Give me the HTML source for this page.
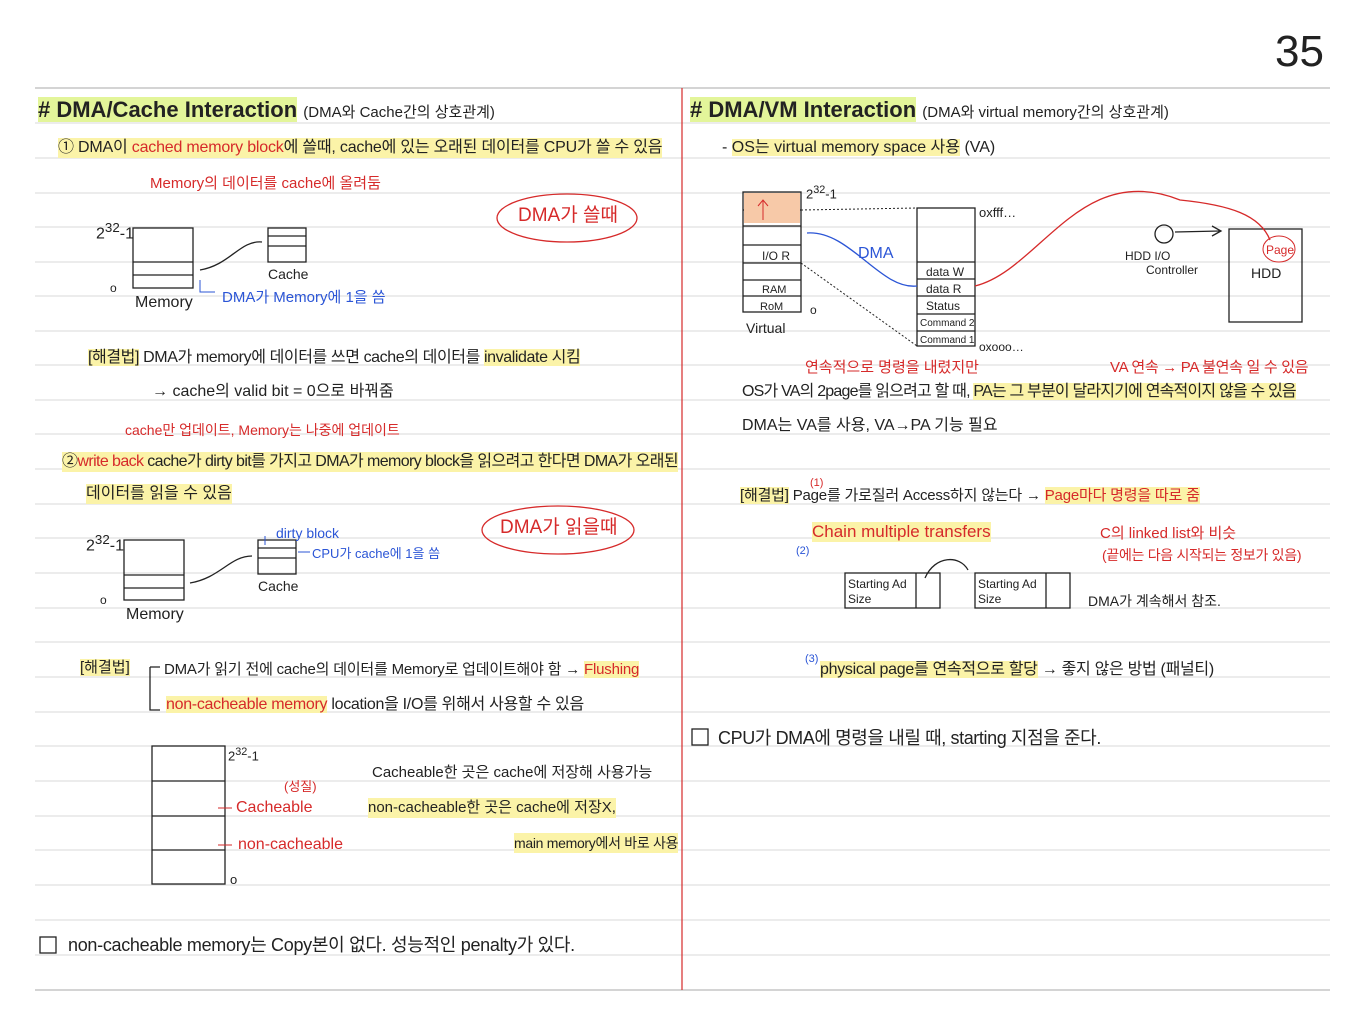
<!DOCTYPE html>
<html><head><meta charset="utf-8"><style>
body{margin:0;width:1365px;height:1024px;background:#fff;position:relative;overflow:hidden;font-family:"Liberation Sans","Noto Sans CJK KR",sans-serif;color:#222}
.t{position:absolute;white-space:nowrap;font-size:16px;line-height:20px}
.h{background:#e3f59a}
.y{background:#fbf3a8}
.r{color:#d62a2a}
.b{color:#2b55d6}
.big{font-size:22px;font-weight:bold}
</style></head><body>
<svg width="1365" height="1024" style="position:absolute;left:0;top:0">
<g stroke="#d8d8d8" stroke-width="1">
<line x1="35" y1="88" x2="1330" y2="88" stroke="#aaa"/>
<line x1="35" y1="123" x2="1330" y2="123"/><line x1="35" y1="158" x2="1330" y2="158"/>
<line x1="35" y1="193" x2="1330" y2="193"/><line x1="35" y1="227" x2="1330" y2="227"/>
<line x1="35" y1="262" x2="1330" y2="262"/><line x1="35" y1="296" x2="1330" y2="296"/>
<line x1="35" y1="331" x2="1330" y2="331"/><line x1="35" y1="365" x2="1330" y2="365"/>
<line x1="35" y1="400" x2="1330" y2="400"/><line x1="35" y1="434" x2="1330" y2="434"/>
<line x1="35" y1="469" x2="1330" y2="469"/><line x1="35" y1="504" x2="1330" y2="504"/>
<line x1="35" y1="538" x2="1330" y2="538"/><line x1="35" y1="573" x2="1330" y2="573"/>
<line x1="35" y1="608" x2="1330" y2="608"/><line x1="35" y1="642" x2="1330" y2="642"/>
<line x1="35" y1="677" x2="1330" y2="677"/><line x1="35" y1="712" x2="1330" y2="712"/>
<line x1="35" y1="746" x2="1330" y2="746"/><line x1="35" y1="781" x2="1330" y2="781"/>
<line x1="35" y1="816" x2="1330" y2="816"/><line x1="35" y1="850" x2="1330" y2="850"/>
<line x1="35" y1="885" x2="1330" y2="885"/><line x1="35" y1="920" x2="1330" y2="920"/>
<line x1="35" y1="955" x2="1330" y2="955"/><line x1="35" y1="990" x2="1330" y2="990" stroke="#aaa"/>
</g>
<line x1="682" y1="88" x2="682" y2="990" stroke="#d62a2a" stroke-width="1.2"/>
<g fill="none" stroke="#222" stroke-width="1.3">
<rect x="133" y="228" width="60" height="60"/><line x1="133" y1="262" x2="193" y2="262"/><line x1="133" y1="275" x2="193" y2="275"/>
<rect x="268" y="228" width="38" height="34"/><line x1="268" y1="236" x2="306" y2="236"/><line x1="268" y1="246" x2="306" y2="246"/>
<path d="M200 270 C230 265 240 240 262 242"/>
<rect x="124" y="540" width="60" height="60"/><line x1="124" y1="575" x2="184" y2="575"/><line x1="124" y1="588" x2="184" y2="588"/>
<rect x="258" y="540" width="38" height="34"/><line x1="258" y1="548" x2="296" y2="548"/><line x1="258" y1="558" x2="296" y2="558"/>
<path d="M190 583 C220 578 230 556 252 556"/>
<path d="M150 667 L150 710 L160 710 M150 667 L160 667"/>
<rect x="152" y="746" width="73" height="138"/><line x1="152" y1="781" x2="225" y2="781"/><line x1="152" y1="816" x2="225" y2="816"/><line x1="152" y1="850" x2="225" y2="850"/>
<rect x="743" y="192" width="58" height="120"/>
<line x1="743" y1="210" x2="801" y2="210"/><line x1="743" y1="226" x2="801" y2="226"/><line x1="743" y1="245" x2="801" y2="245"/><line x1="743" y1="263" x2="801" y2="263"/><line x1="743" y1="280" x2="801" y2="280"/><line x1="743" y1="296" x2="801" y2="296"/>
<rect x="917" y="208" width="58" height="138"/>
<line x1="917" y1="262" x2="975" y2="262"/><line x1="917" y1="279" x2="975" y2="279"/><line x1="917" y1="296" x2="975" y2="296"/><line x1="917" y1="314" x2="975" y2="314"/><line x1="917" y1="331" x2="975" y2="331"/>
<rect x="1229" y="229" width="73" height="93"/>
<circle cx="1164" cy="234" r="9"/>
<path d="M1175 232 L1220 231"/><path d="M1212 226 L1221 231 L1212 236"/>
<rect x="845" y="573" width="95" height="35"/><line x1="916" y1="573" x2="916" y2="608"/>
<rect x="975" y="573" width="95" height="35"/><line x1="1046" y1="573" x2="1046" y2="608"/>
<path d="M925 578 C935 555 960 555 968 570"/>
<rect x="692" y="729" width="16" height="16"/>
<rect x="40" y="937" width="16" height="16"/>
</g>
<g stroke="#222" stroke-width="1" stroke-dasharray="2,2" fill="none">
<line x1="801" y1="210" x2="917" y2="208"/><line x1="801" y1="263" x2="917" y2="346"/>
</g>
<rect x="744" y="193" width="56" height="30" fill="#f7c9a8"/>
<path d="M763 200 L763 220 M758 206 L763 200 L768 206" stroke="#d62a2a" fill="none"/>
<path d="M807 233 C850 230 880 290 917 286" stroke="#2b55d6" fill="none" stroke-width="1.3"/>
<path d="M975 286 C1040 270 1080 160 1180 200 C1230 205 1260 215 1270 240" stroke="#d62a2a" fill="none" stroke-width="1.3"/>
<ellipse cx="1279" cy="249" rx="16" ry="13" stroke="#d62a2a" fill="none"/>
<ellipse cx="567" cy="218" rx="70" ry="24" stroke="#d62a2a" fill="none" stroke-width="1.3"/>
<ellipse cx="558" cy="530" rx="76" ry="24" stroke="#d62a2a" fill="none" stroke-width="1.3"/>
<path d="M200 280 L200 292 L215 292" stroke="#2b55d6" fill="none"/>
<path d="M265 536 L265 545 M298 552 L310 552" stroke="#2b55d6" fill="none"/>
<line x1="218" y1="808" x2="232" y2="808" stroke="#d62a2a"/><line x1="218" y1="845" x2="232" y2="845" stroke="#d62a2a"/>
</svg>

<div class="t" style="left:1275px;top:28px;font-size:44px;line-height:48px">35</div>

<div class="t big" style="left:38px;top:100px"><span class="h">#&nbsp;DMA/Cache Interaction</span> <span style="font-size:15px;font-weight:normal">(DMA와 Cache간의 상호관계)</span></div>
<div class="t y" style="left:58px;top:138px;font-size:16px;letter-spacing:-0.2px">① DMA이 <span class="r">cached memory block</span>에 쓸때, cache에 있는 오래된 데이터를 CPU가 쓸 수 있음</div>
<div class="t r" style="left:150px;top:174px;font-size:15px">Memory의 데이터를 cache에 올려둠</div>
<div class="t" style="left:96px;top:218px">2<sup>32</sup>-1</div>
<div class="t" style="left:110px;top:278px;font-size:12px">o</div>
<div class="t" style="left:135px;top:293px">Memory</div>
<div class="t" style="left:268px;top:264px;font-size:14px">Cache</div>
<div class="t b" style="left:222px;top:288px;font-size:15px">DMA가 Memory에 1을 씀</div>
<div class="t r" style="left:518px;top:206px;font-size:19px">DMA가 쓸때</div>
<div class="t" style="left:88px;top:348px;font-size:16px;letter-spacing:-0.4px"><span class="y">[해결법]</span> DMA가 memory에 데이터를 쓰면 cache의 데이터를 <span class="y">invalidate 시킴</span></div>
<div class="t" style="left:152px;top:382px;font-size:16px">→ cache의 valid bit = 0으로 바꿔줌</div>
<div class="t r" style="left:125px;top:420px;font-size:14px">cache만 업데이트, Memory는 나중에 업데이트</div>
<div class="t y" style="left:62px;top:452px;font-size:16px;letter-spacing:-0.6px">②<span class="r">write back</span> cache가 dirty bit를 가지고 DMA가 memory block을 읽으려고 한다면 DMA가 오래된</div>
<div class="t y" style="left:86px;top:484px;font-size:16px">데이터를 읽을 수 있음</div>
<div class="t" style="left:86px;top:530px">2<sup>32</sup>-1</div>
<div class="t" style="left:100px;top:590px;font-size:12px">o</div>
<div class="t" style="left:126px;top:605px">Memory</div>
<div class="t" style="left:258px;top:576px;font-size:14px">Cache</div>
<div class="t b" style="left:276px;top:523px;font-size:14px">dirty block</div>
<div class="t b" style="left:312px;top:544px;font-size:13px">CPU가 cache에 1을 씀</div>
<div class="t r" style="left:500px;top:518px;font-size:19px">DMA가 읽을때</div>
<div class="t" style="left:80px;top:658px;font-size:15px"><span class="y">[해결법]</span></div>
<div class="t" style="left:164px;top:660px;font-size:15px;letter-spacing:-0.2px">DMA가 읽기 전에 cache의 데이터를 Memory로 업데이트해야 함 → <span class="y r">Flushing</span></div>
<div class="t" style="left:166px;top:695px;font-size:16px;letter-spacing:-0.3px"><span class="y r">non-cacheable memory</span> location을 I/O를 위해서 사용할 수 있음</div>
<div class="t" style="left:228px;top:742px;font-size:13px">2<sup>32</sup>-1</div>
<div class="t r" style="left:284px;top:777px;font-size:13px">(성질)</div>
<div class="t r" style="left:236px;top:798px">Cacheable</div>
<div class="t r" style="left:238px;top:835px">non-cacheable</div>
<div class="t" style="left:230px;top:870px;font-size:13px">o</div>
<div class="t" style="left:372px;top:763px;font-size:15px">Cacheable한 곳은 cache에 저장해 사용가능</div>
<div class="t y" style="left:368px;top:798px;font-size:15px">non-cacheable한 곳은 cache에 저장X,</div>
<div class="t y" style="left:514px;top:833px;font-size:14px;letter-spacing:-0.3px">main memory에서 바로 사용</div>
<div class="t" style="left:68px;top:935px;font-size:18px;letter-spacing:-0.3px">non-cacheable memory는 Copy본이 없다. 성능적인 penalty가 있다.</div>

<div class="t big" style="left:690px;top:100px"><span class="h">#&nbsp;DMA/VM Interaction</span> <span style="font-size:15px;font-weight:normal">(DMA와 virtual memory간의 상호관계)</span></div>
<div class="t" style="left:722px;top:138px;font-size:16px">- <span class="y">OS는 virtual memory space 사용</span> (VA)</div>
<div class="t" style="left:806px;top:180px;font-size:13px">2<sup>32</sup>-1</div>
<div class="t" style="left:762px;top:246px;font-size:12px">I/O R</div>
<div class="t" style="left:762px;top:280px;font-size:11px">RAM</div>
<div class="t" style="left:760px;top:297px;font-size:11px">RoM</div>
<div class="t" style="left:810px;top:300px;font-size:12px">o</div>
<div class="t" style="left:746px;top:318px;font-size:14px">Virtual</div>
<div class="t b" style="left:858px;top:244px">DMA</div>
<div class="t" style="left:979px;top:203px;font-size:13px">oxfff…</div>
<div class="t" style="left:926px;top:262px;font-size:12px">data W</div>
<div class="t" style="left:926px;top:279px;font-size:12px">data R</div>
<div class="t" style="left:926px;top:296px;font-size:12px">Status</div>
<div class="t" style="left:920px;top:314px;font-size:10px">Command 2</div>
<div class="t" style="left:920px;top:331px;font-size:10px">Command 1</div>
<div class="t" style="left:979px;top:337px;font-size:12px">oxooo…</div>
<div class="t" style="left:1125px;top:246px;font-size:12px">HDD I/O</div>
<div class="t" style="left:1146px;top:260px;font-size:12px">Controller</div>
<div class="t" style="left:1251px;top:263px;font-size:14px">HDD</div>
<div class="t r" style="left:1266px;top:240px;font-size:12px">Page</div>
<div class="t r" style="left:805px;top:358px;font-size:15px">연속적으로 명령을 내렸지만</div>
<div class="t r" style="left:1110px;top:358px;font-size:15px;letter-spacing:-0.3px">VA 연속 → PA 불연속 일 수 있음</div>
<div class="t" style="left:742px;top:382px;font-size:16px;letter-spacing:-0.8px">OS가 VA의 2page를 읽으려고 할 때, <span class="y">PA는 그 부분이 달라지기에 연속적이지 않을 수 있음</span></div>
<div class="t" style="left:742px;top:416px;font-size:16px">DMA는 VA를 사용, VA→PA 기능 필요</div>
<div class="t" style="left:740px;top:486px;font-size:15px;letter-spacing:-0.2px"><span class="y">[해결법]</span> Page를 가로질러 Access하지 않는다 → <span class="y r">Page마다 명령을 따로 줌</span></div>
<div class="t r" style="left:810px;top:473px;font-size:11px">(1)</div>
<div class="t y r" style="left:812px;top:522px;font-size:17px">Chain multiple transfers</div>
<div class="t b" style="left:796px;top:541px;font-size:11px">(2)</div>
<div class="t r" style="left:1100px;top:524px;font-size:15px">C의 linked list와 비슷</div>
<div class="t r" style="left:1102px;top:545px;font-size:14px;letter-spacing:-0.3px">(끝에는 다음 시작되는 정보가 있음)</div>
<div class="t" style="left:848px;top:577px;font-size:12px;line-height:15px">Starting Ad<br>Size</div>
<div class="t" style="left:978px;top:577px;font-size:12px;line-height:15px">Starting Ad<br>Size</div>
<div class="t" style="left:1088px;top:591px;font-size:14px">DMA가 계속해서 참조.</div>
<div class="t b" style="left:805px;top:649px;font-size:11px">(3)</div>
<div class="t" style="left:820px;top:660px;font-size:16px;letter-spacing:-0.3px"><span class="y">physical page를 연속적으로 할당</span> → 좋지 않은 방법 (패널티)</div>
<div class="t" style="left:718px;top:728px;font-size:18px;letter-spacing:-0.4px">CPU가 DMA에 명령을 내릴 때, starting 지점을 준다.</div>
</body></html>
